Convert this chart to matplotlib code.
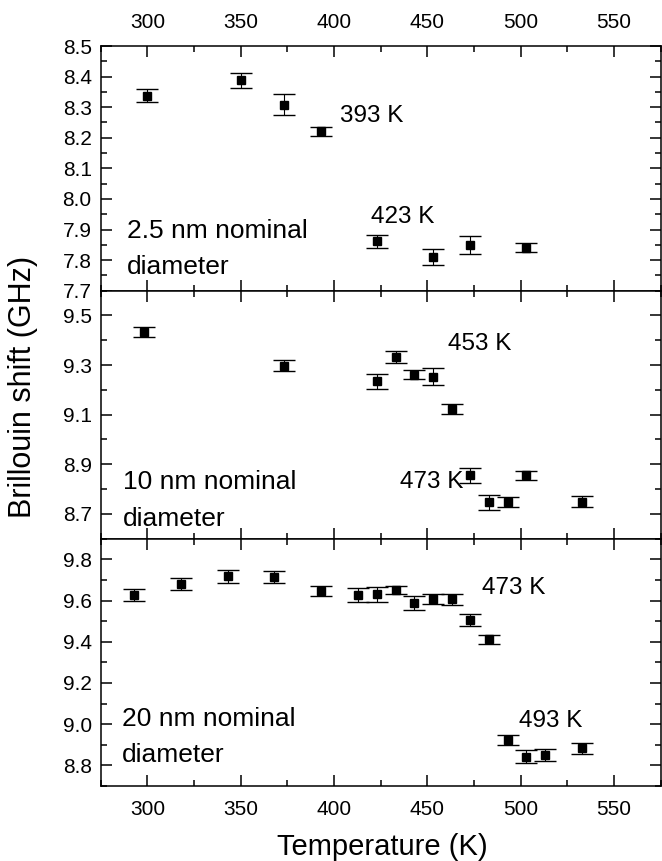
import matplotlib.pyplot as plt
from matplotlib.ticker import MultipleLocator

plt.rcParams['font.family'] = ['Liberation Sans', 'DejaVu Sans']

# 2.5 nm nominal diameter
temp_25 = [300, 350, 373, 393, 423, 453, 473, 503]
shift_25 = [8.338, 8.388, 8.308, 8.221, 7.861, 7.810, 7.850, 7.840]
err_25 = [0.020, 0.025, 0.035, 0.014, 0.020, 0.025, 0.030, 0.015]

# 10 nm nominal diameter
temp_10 = [298, 373, 423, 433, 443, 453, 463, 473, 483, 493, 503, 533]
shift_10 = [9.435, 9.297, 9.234, 9.333, 9.261, 9.253, 9.124, 8.856, 8.747, 8.747, 8.855, 8.749]
err_10 = [0.020, 0.022, 0.031, 0.024, 0.019, 0.034, 0.020, 0.030, 0.031, 0.021, 0.017, 0.022]

# 20 nm nominal diameter
temp_20 = [293, 318, 343, 368, 393, 413, 423, 433, 443, 453, 463, 473, 483, 493, 503, 513, 533]
shift_20 = [9.627, 9.679, 9.717, 9.714, 9.647, 9.627, 9.631, 9.650, 9.589, 9.606, 9.605,
            9.505, 9.412, 8.922, 8.843, 8.850, 8.882]
err_20 = [0.031, 0.030, 0.032, 0.027, 0.025, 0.034, 0.036, 0.020, 0.034, 0.025, 0.027,
          0.031, 0.021, 0.024, 0.030, 0.030, 0.027]

# transition temperature labels (text, x, y)
marks_25 = [('393 K', 403, 8.271), ('423 K', 420, 7.940)]
marks_10 = [('453 K', 461, 9.386), ('473 K', 435.5, 8.828)]
marks_20 = [('473 K', 479, 9.660), ('493 K', 499, 9.016)]

# sample labels (two lines each)
sample_25 = [('2.5 nm nominal', 289, 7.896), ('diameter', 289, 7.776)]
sample_10 = [('10 nm nominal', 287, 8.828), ('diameter', 287, 8.680)]
sample_20 = [('20 nm nominal', 286.5, 9.024), ('diameter', 286.5, 8.851)]

W, H = 662, 861
fig = plt.figure(figsize=(W / 100, H / 100), dpi=100)

left, right = 100.7, 660.7
edges = [46, 290.7, 538.7, 786]


def make_axes(top_px, bot_px):
    return fig.add_axes([left / W, 1 - bot_px / H, (right - left) / W, (bot_px - top_px) / H])


panels = [
    (temp_25, shift_25, err_25, marks_25, sample_25, (7.7, 8.5), 0.1, 0.05, 7.7),
    (temp_10, shift_10, err_10, marks_10, sample_10, (8.6, 9.6), 0.2, 0.1, 8.7),
    (temp_20, shift_20, err_20, marks_20, sample_20, (8.7, 9.9), 0.2, 0.1, 8.8),
]

axes = []
for i, (t, s, e, marks, sample, ylim, major, minor, base) in enumerate(panels):
    ax = make_axes(edges[i], edges[i + 1])
    ax.errorbar(t, s, yerr=e, fmt='s', color='black', ms=5.2, capsize=8,
                elinewidth=0.8, capthick=1.0)
    ax.set_xlim(275, 575)
    ax.set_ylim(*ylim)
    ax.xaxis.set_major_locator(MultipleLocator(50))
    ax.xaxis.set_minor_locator(MultipleLocator(25))
    ax.set_yticks([round(base + k * major, 2) for k in range(20) if base + k * major <= ylim[1] + 1e-9])
    ax.yaxis.set_minor_locator(MultipleLocator(minor))
    ax.tick_params(which='both', direction='in', top=True, right=True,
                   width=1.1, labelsize=15)
    ax.tick_params(which='major', length=8)
    ax.tick_params(which='minor', length=4.3)
    ax.tick_params(axis='y', pad=6.5)
    ax.tick_params(axis='x', pad=10)
    for sp in ax.spines.values():
        sp.set_linewidth(1.1)
    for txt, x, y in marks:
        ax.text(x, y, txt, fontsize=17.5, ha='left', va='center')
    for txt, x, y in sample:
        ax.text(x, y, txt, fontsize=19, ha='left', va='center')
    axes.append(ax)

axes[0].tick_params(axis='x', labelbottom=False, labeltop=True)
axes[1].tick_params(axis='x', labelbottom=False)

fig.text(23 / W, 1 - 386.5 / H, 'Brillouin shift (GHz)', rotation=90,
         fontsize=22, ha='center', va='center')
fig.text(382.7 / W, 1 - 847 / H, 'Temperature (K)', fontsize=21,
         ha='center', va='center')

fig.savefig('out.png', dpi=100)
